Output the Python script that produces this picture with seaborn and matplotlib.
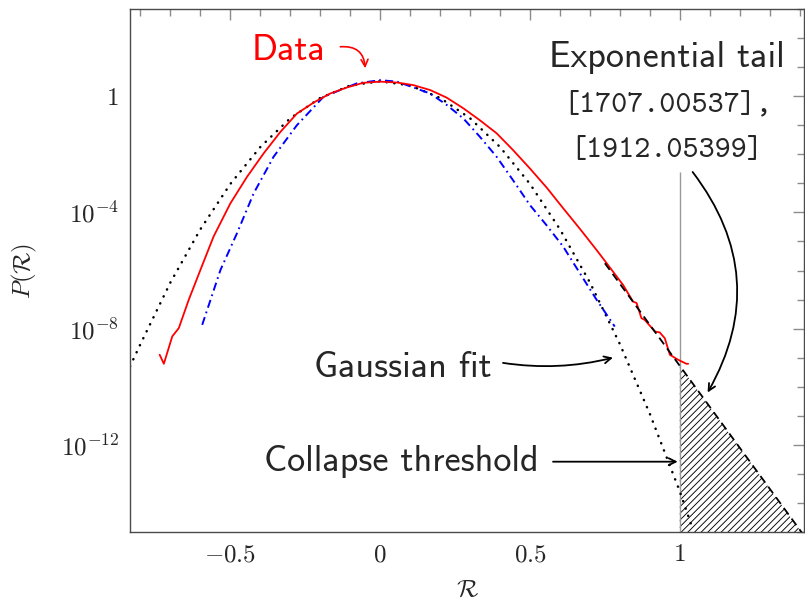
import numpy as np
import matplotlib
matplotlib.use("Agg")
import matplotlib.pyplot as plt
import seaborn as sns
from matplotlib.ticker import FixedLocator, FixedFormatter, NullFormatter

# ---------------- data (log10 of P) ----------------
data_x = [-0.736, -0.722, -0.694, -0.672, -0.639, -0.6, -0.556, -0.5, -0.444,
          -0.389, -0.333, -0.278, -0.222, -0.167, -0.111, -0.056, 0.0, 0.056,
          0.111, 0.167, 0.222, 0.278, 0.333, 0.389, 0.444, 0.5, 0.556, 0.611,
          0.667, 0.722, 0.756, 0.811, 0.844, 0.856, 0.872, 0.883, 0.917, 0.933,
          0.95, 0.967, 0.994, 1.022, 1.028]
data_log = [-8.9, -9.21, -8.27, -7.98, -7.01, -5.98, -4.83, -3.69, -2.77,
            -1.97, -1.23, -0.6, -0.22, 0.09, 0.3, 0.46, 0.5, 0.47,
            0.38, 0.21, -0.05, -0.42, -0.83, -1.28, -1.86, -2.49, -3.15, -3.86,
            -4.57, -5.29, -5.75, -6.5, -7.07, -7.12, -7.64, -7.7, -8.1, -8.13,
            -8.33, -8.9, -9.07, -9.21, -9.21]

model_x = [-0.594, -0.533, -0.478, -0.422, -0.356, -0.278, -0.189, -0.078, 0.0,
           0.056, 0.111, 0.167, 0.222, 0.278, 0.333, 0.389, 0.444, 0.5, 0.556,
           0.611, 0.667, 0.722, 0.783]
model_log = [-7.87, -5.98, -4.72, -3.34, -2.09, -1.0, -0.02, 0.44, 0.55,
             0.5, 0.3, 0.09, -0.3, -0.77, -1.4, -2.09, -2.9, -3.75, -4.45,
             -5.18, -6.1, -7.0, -7.93]

gauss_x = [-0.835, -0.8, -0.7, -0.6, -0.5, -0.4, -0.3, -0.2, -0.1, 0.0, 0.1,
           0.2, 0.3, 0.4, 0.5, 0.6, 0.7, 0.8, 0.9, 1.0, 1.04]
gauss_log = [-9.3, -8.53, -6.41, -4.58, -3.02, -1.75, -0.76, -0.06, 0.37, 0.51,
             0.37, -0.06, -0.76, -1.75, -3.02, -4.58, -6.41, -8.53, -10.93,
             -13.6, -14.8]

tail_x = [0.75, 1.0, 1.413]
tail_log = [-5.75, -9.28, -15.1]

threshold_x = 1.0
threshold_top_log = -2.61

x_ticks = [-0.5, 0, 0.5, 1]
x_ticklabels = [r"$-0.5$", r"$0$", r"$0.5$", r"$1$"]
y_ticks = [1e-12, 1e-8, 1e-4, 1]
y_ticklabels = [r"$10^{-12}$", r"$10^{-8}$", r"$10^{-4}$", r"$1$"]

# ---------------- style ----------------
sns.set_style("white")
plt.rcParams["mathtext.fontset"] = "cm"
plt.rcParams["font.family"] = ["cmss10", "DejaVu Sans"]
plt.rcParams["axes.unicode_minus"] = True
plt.rcParams["hatch.linewidth"] = 0.65

fig = plt.figure(figsize=(8.05, 6.01), dpi=100)
ax = fig.add_axes([130 / 805, 1 - 532 / 601, 673.5 / 805, 523 / 601])

ax.set_yscale("log")

P = lambda v: 10.0 ** np.asarray(v)

# hatched collapse region
ax.fill_between(tail_x[1:], P(tail_log[1:]), 1e-15, facecolor="none",
                edgecolor="black", hatch="/////", linewidth=0, zorder=1)

# threshold line
ax.vlines(threshold_x, 1e-15, P(threshold_top_log), color="#9a9a9a", lw=1.0, zorder=1.5)

sns.lineplot(x=gauss_x, y=P(gauss_log), ax=ax, color="black", lw=1.8,
             linestyle=(0, (0.1, 3.0)), dash_capstyle="round", estimator=None,
             sort=False, zorder=2)
sns.lineplot(x=model_x, y=P(model_log), ax=ax, color="blue", lw=1.4,
             linestyle=(0, (4.2, 2.1, 0.9, 2.1)), estimator=None, sort=False, zorder=3)
sns.lineplot(x=data_x, y=P(data_log), ax=ax, color="red", lw=1.3,
             estimator=None, sort=False, zorder=4)
sns.lineplot(x=tail_x, y=P(tail_log), ax=ax, color="black", lw=1.3,
             linestyle=(0, (4.5, 2.8)), estimator=None, sort=False, zorder=5)

ax.set_xlim(-0.835, 1.413)
ax.set_ylim(1e-15, 1e3)

# ticks
ax.xaxis.set_major_locator(FixedLocator(x_ticks))
ax.xaxis.set_major_formatter(FixedFormatter(x_ticklabels))
ax.xaxis.set_minor_locator(FixedLocator(np.round(np.arange(-0.8, 1.41, 0.1), 2)))
ax.xaxis.set_minor_formatter(NullFormatter())
ax.yaxis.set_major_locator(FixedLocator(y_ticks))
ax.yaxis.set_major_formatter(FixedFormatter(y_ticklabels))
ax.yaxis.set_minor_locator(FixedLocator([10.0 ** k for k in range(-15, 4)]))
ax.yaxis.set_minor_formatter(NullFormatter())
ax.tick_params(which="both", direction="in", top=True, right=True,
               color="#8c8c8c", width=1.0)
ax.tick_params(which="major", length=8, labelsize=18, pad=8)
ax.tick_params(which="minor", length=5)

for s in ax.spines.values():
    s.set_color("#4a4a4a")
    s.set_linewidth(1.0)

ax.set_xlabel(r"$\mathcal{R}$", fontsize=18)
ax.set_ylabel(r"$P(\mathcal{R})$", fontsize=18)
ax.xaxis.set_label_coords((467 - 130) / 673.5, (532 - 589) / 523)
ax.yaxis.set_label_coords((24 - 130) / 673.5, (532 - 271) / 523)
ax.xaxis.label.set_va("center")
ax.yaxis.label.set_va("center")

# annotations
fs = 26
fst = 22
ax.text(-0.307, P(1.24), "Data", color="red", fontsize=fs, family="cmss10",
        ha="center", va="baseline")
ax.annotate("", xy=(-0.05, P(0.96)), xytext=(-0.133, P(1.7)),
            arrowprops=dict(arrowstyle="->,head_length=0.5,head_width=0.25",
                            color="red", lw=1.2, connectionstyle="arc3,rad=-0.5",
                            shrinkA=0, shrinkB=0))

ax.text(0.957, P(1.0), "Exponential tail", fontsize=fs, family="cmss10",
        ha="center", va="baseline")
ax.text(0.96, P(-0.54), "[1707.00537],", fontsize=fst, family="cmtt10",
        ha="center", va="baseline")
ax.text(0.955, P(-2.08), "[1912.05399]", fontsize=fst, family="cmtt10",
        ha="center", va="baseline")
ax.annotate("", xy=(1.093, P(-10.2)), xytext=(1.043, P(-2.61)),
            arrowprops=dict(arrowstyle="->,head_length=0.5,head_width=0.25",
                            color="black", lw=1.3, connectionstyle="arc3,rad=-0.33",
                            shrinkA=0, shrinkB=0))

ax.text(0.075, P(-9.66), "Gaussian fit", fontsize=fs, family="cmss10",
        ha="center", va="baseline")
ax.annotate("", xy=(0.777, P(-9.0)), xytext=(0.41, P(-9.18)),
            arrowprops=dict(arrowstyle="->,head_length=0.5,head_width=0.25",
                            color="black", lw=1.3, connectionstyle="arc3,rad=0.1",
                            shrinkA=0, shrinkB=0))

ax.text(0.072, P(-12.91), "Collapse threshold", fontsize=fs, family="cmss10",
        ha="center", va="baseline")
ax.annotate("", xy=(0.993, P(-12.58)), xytext=(0.577, P(-12.58)),
            arrowprops=dict(arrowstyle="->,head_length=0.5,head_width=0.25",
                            color="black", lw=1.3, shrinkA=0, shrinkB=0))

fig.savefig("out.png", dpi=100)
